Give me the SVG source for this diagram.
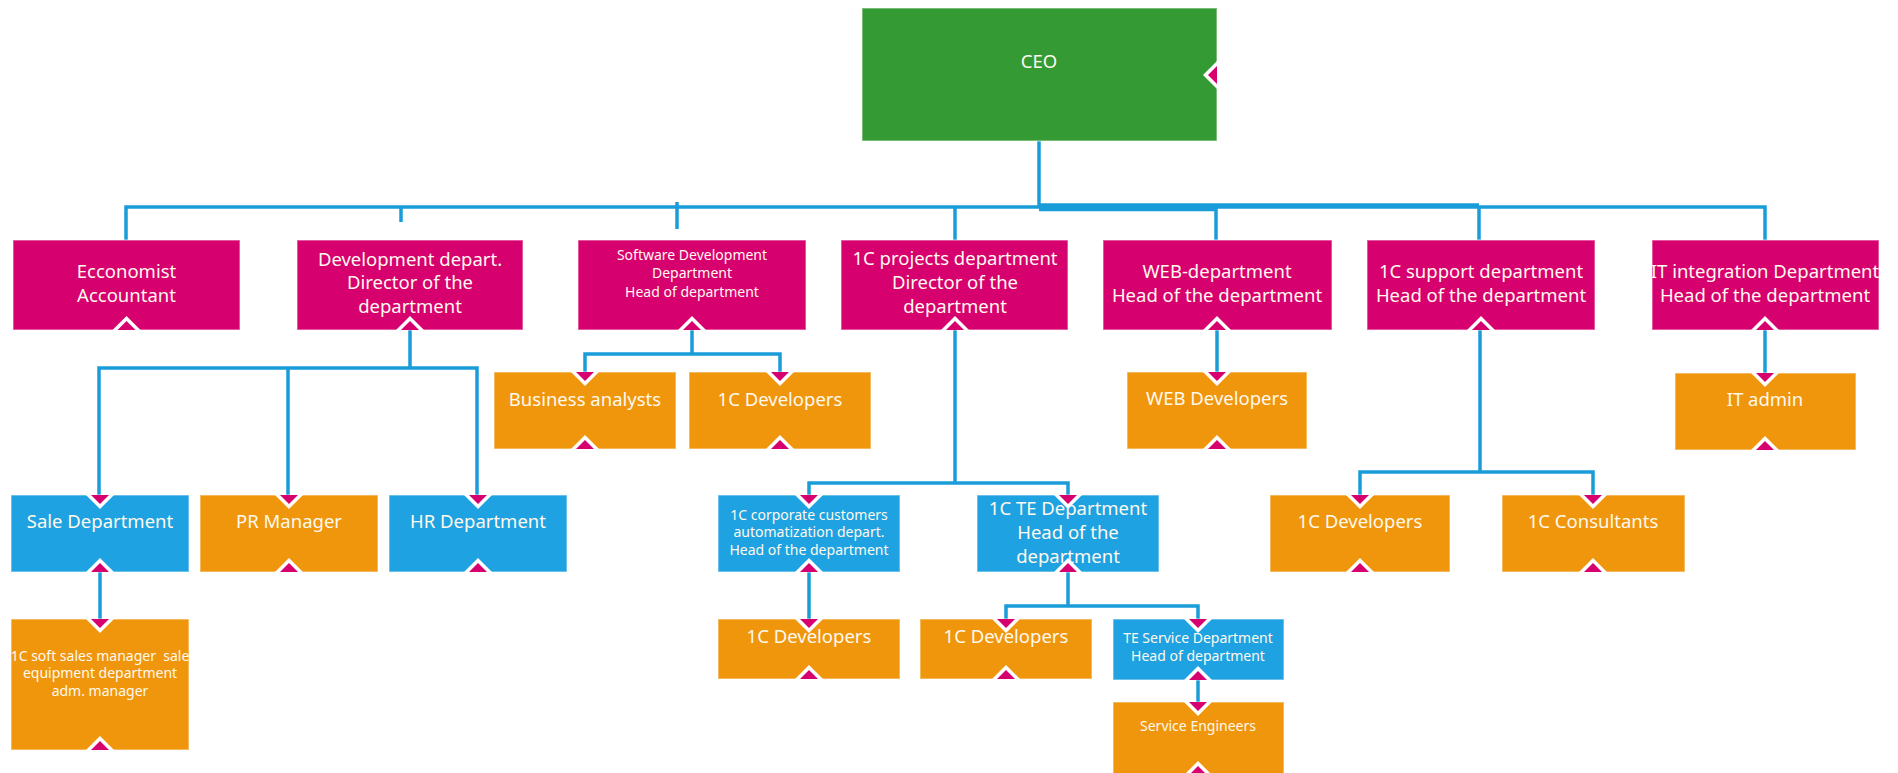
<svg xmlns="http://www.w3.org/2000/svg" xmlns:xlink="http://www.w3.org/1999/xlink" width="1898" height="773" viewBox="0 0 1898 773">
<style>
.box{stroke:#ffffff;stroke-opacity:0.45;stroke-width:1.5}
.g{fill:#349a34}
.m{fill:#d7006f}
.o{fill:#f0960c}
.b{fill:#1ea2e1}
text{font-family:"Noto Sans","Open Sans",sans-serif;fill:#fff9ee;text-anchor:middle;dominant-baseline:central;transform:translateY(-2px)}
.t{font-size:18.5px}
.s{font-size:14px}
.c{fill:none;stroke:#1a9cd9;stroke-width:3.5}
</style>
<defs>
<g id="mDown"><polygon points="-14,0 14,0 0,14" fill="#ffffff"/><polygon points="-9,0 9,0 0,9" fill="#d7006f"/></g>
<g id="mUp"><polygon points="-14,0 14,0 0,-14" fill="#ffffff"/><polygon points="-9,0 9,0 0,-9" fill="#d7006f"/></g>
<g id="mLeft"><polygon points="0,-14 0,14 -14,0" fill="#ffffff"/><polygon points="0,-9 0,9 -9,0" fill="#d7006f"/></g>
</defs>

<g id="connectors">
<path class="c" d="M1039,141 V207"/>
<path class="c" d="M126,240 V207 H1765 V240"/>
<path class="c" d="M1039,209.5 H1216"/>
<path class="c" d="M1039,205 H1479"/>
<path class="c" d="M401,207 V222"/>
<path class="c" d="M677,202 V229"/>
<path class="c" d="M955,207 V240"/>
<path class="c" d="M1216,207 V240"/>
<path class="c" d="M1479,207 V240"/>
<path class="c" d="M410,330 V368 M99,495 V368 H477 V495 M288,368 V495"/>
<path class="c" d="M692,330 V354 M585,372 V354 H780 V372"/>
<path class="c" d="M1217,330 V372"/>
<path class="c" d="M1765,330 V373"/>
<path class="c" d="M955,330 V483 M809,495 V483 H1068 V495"/>
<path class="c" d="M1480,330 V472 M1360,495 V472 H1593 V495"/>
<path class="c" d="M100,572 V619"/>
<path class="c" d="M809,572 V619"/>
<path class="c" d="M1068,572 V606 M1006,619 V606 H1198 V619"/>
<path class="c" d="M1198,680 V702"/>
</g>

<g id="ceo"><rect class="box g" x="862" y="8" width="355" height="133"/><text class="t" x="1039" y="62">CEO</text><use href="#mLeft" x="1217" y="75"/></g>

<g id="economist"><rect class="box m" x="13" y="240" width="227" height="90"/><text class="t" x="126.5" y="272">Ecconomist</text><text class="t" x="126.5" y="296">Accountant</text><use href="#mUp" x="126.5" y="330"/></g>
<g id="development"><rect class="box m" x="297" y="240" width="226" height="90"/><text class="t" x="410" y="260">Development depart.</text><text class="t" x="410" y="283">Director of the</text><text class="t" x="410" y="307">department</text><use href="#mUp" x="410" y="330"/></g>
<g id="software"><rect class="box m" x="578" y="240" width="228" height="90"/><text class="s" x="692" y="256">Software Development</text><text class="s" x="692" y="274">Department</text><text class="s" x="692" y="293">Head of department</text><use href="#mUp" x="692" y="330"/></g>
<g id="projects1c"><rect class="box m" x="841" y="240" width="227" height="90"/><text class="t" x="955" y="259">1C projects department</text><text class="t" x="955" y="283">Director of the</text><text class="t" x="955" y="307">department</text><use href="#mUp" x="955" y="330"/></g>
<g id="web"><rect class="box m" x="1103" y="240" width="229" height="90"/><text class="t" x="1217" y="272">WEB-department</text><text class="t" x="1217" y="296">Head of the department</text><use href="#mUp" x="1217" y="330"/></g>
<g id="support1c"><rect class="box m" x="1367" y="240" width="228" height="90"/><text class="t" x="1481" y="272">1C support department</text><text class="t" x="1481" y="296">Head of the department</text><use href="#mUp" x="1481" y="330"/></g>
<g id="itint"><rect class="box m" x="1652" y="240" width="227" height="90"/><text class="t" x="1765" y="272">IT integration Department</text><text class="t" x="1765" y="296">Head of the department</text><use href="#mUp" x="1765" y="330"/></g>

<g id="business"><rect class="box o" x="494" y="372" width="182" height="77"/><text class="t" x="585" y="400">Business analysts</text><use href="#mDown" x="585" y="372"/><use href="#mUp" x="585" y="449"/></g>
<g id="dev1c-sw"><rect class="box o" x="689" y="372" width="182" height="77"/><text class="t" x="780" y="400">1C Developers</text><use href="#mDown" x="780" y="372"/><use href="#mUp" x="780" y="449"/></g>
<g id="webdev"><rect class="box o" x="1127" y="372" width="180" height="77"/><text class="t" x="1217" y="399">WEB Developers</text><use href="#mDown" x="1217" y="372"/><use href="#mUp" x="1217" y="449"/></g>
<g id="itadmin"><rect class="box o" x="1675" y="373" width="181" height="77"/><text class="t" x="1765" y="400">IT admin</text><use href="#mDown" x="1765" y="373"/><use href="#mUp" x="1765" y="450"/></g>

<g id="sale"><rect class="box b" x="11" y="495" width="178" height="77"/><text class="t" x="100" y="522">Sale Department</text><use href="#mDown" x="100" y="495"/><use href="#mUp" x="100" y="572"/></g>
<g id="pr"><rect class="box o" x="200" y="495" width="178" height="77"/><text class="t" x="289" y="522">PR Manager</text><use href="#mDown" x="289" y="495"/><use href="#mUp" x="289" y="572"/></g>
<g id="hr"><rect class="box b" x="389" y="495" width="178" height="77"/><text class="t" x="478" y="522">HR Department</text><use href="#mDown" x="478" y="495"/><use href="#mUp" x="478" y="572"/></g>
<g id="corp"><rect class="box b" x="718" y="495" width="182" height="77"/><text class="s" x="809" y="516">1C corporate customers</text><text class="s" x="809" y="533">automatization depart.</text><text class="s" x="809" y="551">Head of the department</text><use href="#mDown" x="809" y="495"/><use href="#mUp" x="809" y="572"/></g>
<g id="te1c"><rect class="box b" x="977" y="495" width="182" height="77"/><text class="t" x="1068" y="509">1C TE Department</text><text class="t" x="1068" y="533">Head of the</text><text class="t" x="1068" y="557">department</text><use href="#mDown" x="1068" y="495"/><use href="#mUp" x="1068" y="572"/></g>
<g id="dev1c-sup"><rect class="box o" x="1270" y="495" width="180" height="77"/><text class="t" x="1360" y="522">1C Developers</text><use href="#mDown" x="1360" y="495"/><use href="#mUp" x="1360" y="572"/></g>
<g id="consult"><rect class="box o" x="1502" y="495" width="183" height="77"/><text class="t" x="1593" y="522">1C Consultants</text><use href="#mDown" x="1593" y="495"/><use href="#mUp" x="1593" y="572"/></g>

<g id="softsales"><rect class="box o" x="11" y="619" width="178" height="131"/><text class="s" x="100" y="657" xml:space="preserve">1C soft sales manager  sale</text><text class="s" x="100" y="674">equipment department</text><text class="s" x="100" y="692">adm. manager</text><use href="#mDown" x="100" y="619"/><use href="#mUp" x="100" y="750"/></g>
<g id="dev1c-corp"><rect class="box o" x="718" y="619" width="182" height="60"/><text class="t" x="809" y="637">1C Developers</text><use href="#mDown" x="809" y="619"/><use href="#mUp" x="809" y="679"/></g>
<g id="dev1c-te"><rect class="box o" x="920" y="619" width="172" height="60"/><text class="t" x="1006" y="637">1C Developers</text><use href="#mDown" x="1006" y="619"/><use href="#mUp" x="1006" y="679"/></g>
<g id="teservice"><rect class="box b" x="1113" y="619" width="171" height="61"/><text class="s" x="1198" y="639">TE Service Department</text><text class="s" x="1198" y="657">Head of department</text><use href="#mDown" x="1198" y="619"/><use href="#mUp" x="1198" y="680"/></g>
<g id="engineers"><rect class="box o" x="1113" y="702" width="171" height="74"/><text class="s" x="1198" y="727">Service Engineers</text><use href="#mDown" x="1198" y="702"/><use href="#mUp" x="1198" y="775"/></g>
</svg>
